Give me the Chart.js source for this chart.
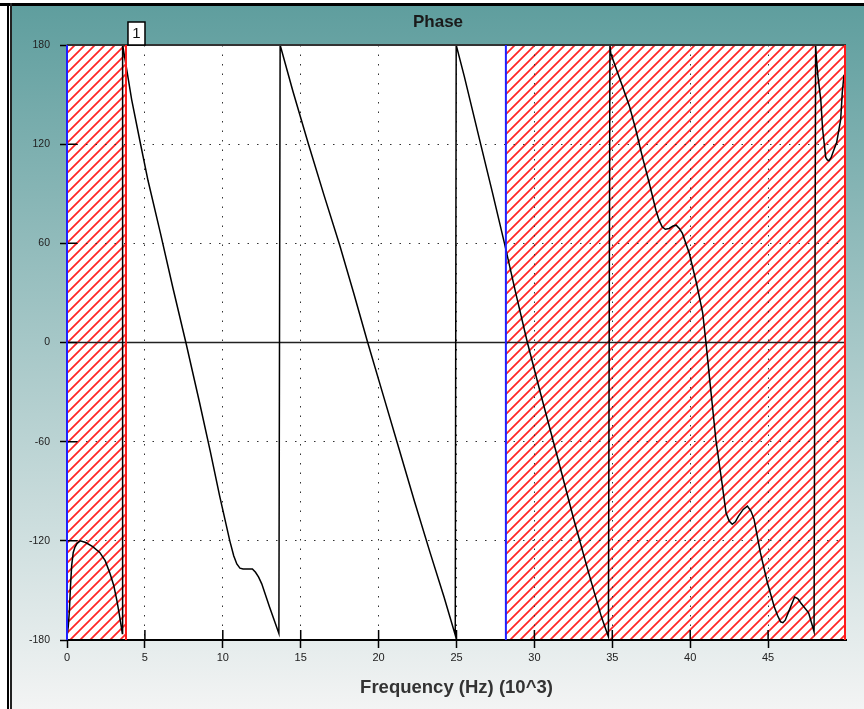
<!DOCTYPE html>
<html>
<head>
<meta charset="utf-8">
<title>Phase</title>
<script src="https://cdn.jsdelivr.net/npm/chart.js@4.4.0/dist/chart.umd.min.js"></script>
<style>
  html, body { margin: 0; padding: 0; background: #fff; }
  canvas { display: block; }
</style>
</head>
<body>
<canvas id="phaseChart" width="864" height="709"></canvas>
<script>
// frequency (x10^3 Hz) and phase (deg)
const freq = [
  0.0, 0.08, 0.15, 0.22, 0.3, 0.4, 0.5, 0.65, 0.85, 1.2, 1.65, 2.1, 2.45, 2.75, 3.0, 3.2, 3.35, 3.5, 3.55,
  3.57, 3.75, 4.15, 4.7, 5.2, 6.0, 6.8, 7.63, 8.5, 9.2, 9.8, 10.45, 10.7, 10.9, 11.1, 11.3, 11.9, 12.1, 12.3, 12.5, 13.0, 13.6,
  13.68, 14.5, 15.5, 16.5, 17.5, 18.4, 19.3, 20.3, 21.3, 22.3, 23.3, 24.2, 24.92,
  24.98, 25.5, 26.5, 27.3, 28.08, 28.8, 29.55, 30.4, 31.5, 32.5, 33.5, 34.3, 34.75,
  34.85, 34.9, 35.65, 36.1, 36.5, 36.94, 37.37, 37.8, 38.0, 38.2, 38.4, 38.65, 38.9, 39.1, 39.3, 39.5, 39.94, 40.4, 40.8, 41.0,
  41.3, 41.65, 42.07, 42.3, 42.5, 42.7, 42.9, 43.1, 43.4, 43.67, 43.9, 44.1, 44.5, 44.96, 45.4, 45.6, 45.8, 45.95, 46.1, 46.4, 46.7, 46.9, 47.1, 47.6, 47.95,
  48.05, 48.1, 48.2, 48.38, 48.5, 48.7, 48.8, 48.9, 49.05, 49.2, 49.4, 49.66, 49.76, 49.87
];
const phase = [
  -178, -172, -163, -148, -135, -127, -124, -121.5, -120, -121, -123.5, -127, -132, -139.5, -147, -156, -164, -173, -176,
  180, 170, 147, 121, 98, 66, 33, 0, -36, -66, -93, -120, -129, -134, -136.5, -137, -137, -139, -142, -146, -160, -176,
  180, 152, 120, 89, 59, 30, 0, -32, -64, -96, -127, -154, -177,
  180, 161, 122, 91, 60, 30, 0, -31, -70, -106, -140, -166, -178,
  180, 175, 155, 143, 129, 112, 96.5, 80, 74, 70, 68.5, 69, 70.5, 71, 69, 66, 54, 36, 18, 1,
  -27, -59, -87, -103, -108, -110, -108.5, -105, -101, -99, -102, -107, -127, -145.5, -160, -165, -169, -169.5, -168, -161, -154, -155, -157.6, -163.6, -175,
  180, 172, 161, 147, 129, 112, 110.5, 110, 112, 116, 121, 135, 151, 162
];
const xTicks = [0, 5, 10, 15, 20, 25, 30, 35, 40, 45];
const yTicks = [-180, -120, -60, 0, 60, 120, 180];

// hatched bands (blue start edge, red end edge)
const bandStart = [0, 28.17];
const bandEnd = [3.85, 50];
const markerX = 3.85;
const markerText = '1';
const chartTitle = 'Phase';

const FONT = "'Liberation Sans', Arial, sans-serif";

// red diagonal hatch tile
const hatchTile = document.createElement('canvas');
hatchTile.width = 10;
hatchTile.height = 10;
const ht = hatchTile.getContext('2d');
ht.strokeStyle = '#ff2626';
ht.lineWidth = 1.7;
ht.beginPath();
ht.moveTo(-1, 11); ht.lineTo(11, -1);
ht.moveTo(-1, 1); ht.lineTo(1, -1);
ht.moveTo(9, 11); ht.lineTo(11, 9);
ht.stroke();

const decor = {
  id: 'decor',
  beforeDraw(chart) {
    const {ctx, chartArea: a, width, height} = chart;
    const xs = chart.scales.x;
    ctx.save();
    ctx.fillStyle = '#fff';
    ctx.fillRect(0, 0, width, height);
    const g = ctx.createLinearGradient(0, 6, 0, height);
    g.addColorStop(0, '#5f9e9e');
    g.addColorStop(1, '#f3f4f4');
    ctx.fillStyle = g;
    ctx.fillRect(12, 6, width - 12, height - 6);
    // window frame
    ctx.fillStyle = '#000';
    ctx.fillRect(0, 3, width, 3);
    ctx.fillRect(7, 3, 2, height);
    ctx.fillStyle = '#222';
    ctx.fillRect(10, 3, 2, height);
    // title, centred on the window
    ctx.fillStyle = '#1a1a1a';
    ctx.font = 'bold 17px ' + FONT;
    ctx.textAlign = 'center';
    ctx.textBaseline = 'middle';
    ctx.fillText(chartTitle, (12 + width) / 2, 22);
    // plot area + hatched bands
    ctx.fillStyle = '#fff';
    ctx.fillRect(a.left, a.top, a.right - a.left, a.bottom - a.top);
    ctx.fillStyle = ctx.createPattern(hatchTile, 'repeat');
    bandStart.forEach((s, i) => {
      const l = xs.getPixelForValue(s);
      const r = xs.getPixelForValue(bandEnd[i]);
      ctx.fillRect(l, a.top, r - l, a.bottom - a.top);
    });
    ctx.restore();
  },
  beforeDatasetsDraw(chart) {
    const {ctx, chartArea: a} = chart;
    const y0 = chart.scales.y.getPixelForValue(0);
    ctx.save();
    ctx.strokeStyle = '#222';
    ctx.lineWidth = 1.5;
    ctx.beginPath();
    ctx.moveTo(a.left, y0);
    ctx.lineTo(a.right, y0);
    ctx.stroke();
    ctx.restore();
  },
  afterDraw(chart) {
    const {ctx, chartArea: a} = chart;
    const xs = chart.scales.x, ys = chart.scales.y;
    ctx.save();
    // inner parts of tick marks
    ctx.strokeStyle = '#000';
    ctx.lineWidth = 1.5;
    ctx.beginPath();
    yTicks.forEach(v => {
      const py = ys.getPixelForValue(v);
      ctx.moveTo(a.left, py); ctx.lineTo(a.left + 10, py);
    });
    xTicks.forEach(v => {
      const px = xs.getPixelForValue(v);
      ctx.moveTo(px, a.bottom); ctx.lineTo(px, a.bottom - 10);
    });
    ctx.stroke();
    // top border
    ctx.strokeStyle = '#333';
    ctx.lineWidth = 2;
    ctx.beginPath();
    ctx.moveTo(a.left, a.top);
    ctx.lineTo(a.right, a.top);
    ctx.stroke();
    // band edges
    bandStart.forEach((s, i) => {
      const l = xs.getPixelForValue(s);
      const r = xs.getPixelForValue(bandEnd[i]);
      ctx.strokeStyle = '#2020ff';
      ctx.beginPath(); ctx.moveTo(l, a.top); ctx.lineTo(l, a.bottom); ctx.stroke();
      ctx.strokeStyle = '#ff1a1a';
      ctx.beginPath(); ctx.moveTo(r - 1, a.top); ctx.lineTo(r - 1, a.bottom); ctx.stroke();
    });
    // marker box
    const mx = xs.getPixelForValue(markerX) + 1;
    ctx.fillStyle = '#fff';
    ctx.fillRect(mx, a.top - 23, 17, 23);
    ctx.strokeStyle = '#000';
    ctx.lineWidth = 1.5;
    ctx.strokeRect(mx, a.top - 23, 17, 23);
    ctx.fillStyle = '#111';
    ctx.font = '15px ' + FONT;
    ctx.textAlign = 'center';
    ctx.textBaseline = 'middle';
    ctx.fillText(markerText, mx + 8.5, a.top - 11);
    ctx.restore();
  }
};

new Chart(document.getElementById('phaseChart'), {
  type: 'line',
  data: {
    datasets: [{
      data: freq.map((f, i) => ({x: f, y: phase[i]})),
      borderColor: '#000',
      borderWidth: 1.5,
      pointRadius: 0,
      tension: 0,
      fill: false
    }]
  },
  options: {
    responsive: false,
    animation: false,
    layout: { padding: { top: 45, left: 0, right: 18, bottom: 0 } },
    plugins: {
      legend: { display: false },
      tooltip: { enabled: false },
      title: { display: false }
    },
    scales: {
      x: {
        type: 'linear',
        min: 0,
        max: 50,
        afterBuildTicks: s => { s.ticks = xTicks.map(v => ({value: v})); },
        afterFit: s => { s.height = 69; },
        grid: {
          color: c => c.tick && c.tick.value === 0 ? 'rgba(0,0,0,0)' : '#333',
          lineWidth: 1,
          tickLength: 8,
          tickColor: '#000',
          tickWidth: 1.5
        },
        border: { display: true, color: '#000', width: 2, dash: [1.5, 8] },
        ticks: { color: '#222', font: { family: FONT, size: 11 }, padding: 3, maxRotation: 0, autoSkip: false },
        title: {
          display: true,
          text: 'Frequency (Hz) (10^3)',
          color: '#333',
          font: { family: FONT, size: 18.5, weight: 'bold' },
          padding: { top: 4, bottom: 10 }
        }
      },
      y: {
        min: -180,
        max: 180,
        afterBuildTicks: s => { s.ticks = yTicks.map(v => ({value: v})); },
        afterFit: s => { s.width = 67; },
        grid: {
          color: c => c.tick && c.tick.value % 180 === 0 ? 'rgba(0,0,0,0)' : '#333',
          lineWidth: 1,
          tickLength: 7,
          tickColor: '#000',
          tickWidth: 1.5
        },
        border: { display: false, dash: [1.5, 8] },
        ticks: { color: '#222', font: { family: FONT, size: 10.5 }, padding: 10 }
      }
    }
  },
  plugins: [decor]
});
</script>
</body>
</html>
